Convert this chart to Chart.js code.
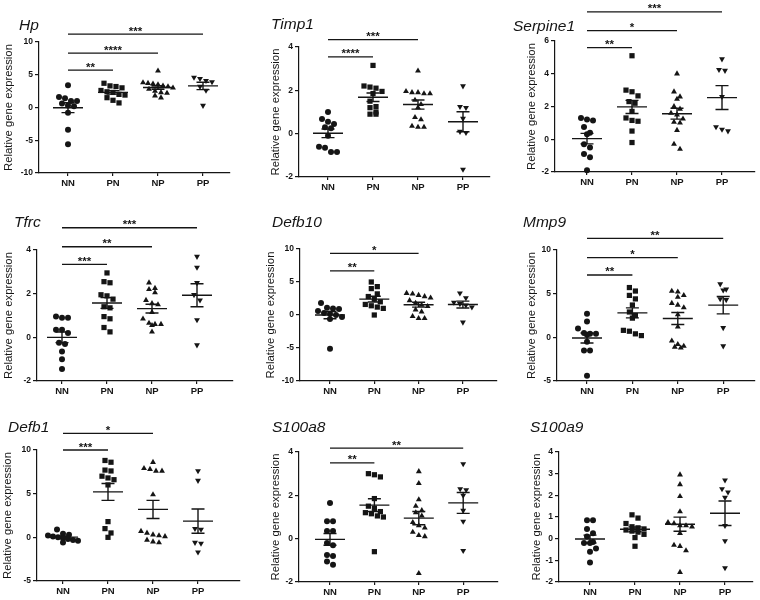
<!DOCTYPE html>
<html>
<head>
<meta charset="utf-8">
<script src="https://cdn.jsdelivr.net/npm/chart.js@4.4.1/dist/chart.umd.min.js"></script>
<style>
  body { margin: 0; background: #fff; }
  #wrap { position: relative; width: 760px; height: 600px; overflow: hidden; background: #fff; }
  #wrap canvas { position: absolute; }
</style>
</head>
<body>
<div id="wrap"></div>
<script>
const categories = ["NN", "PN", "NP", "PP"];
const genes = ["Hp", "Timp1", "Serpine1", "Tfrc", "Defb10", "Mmp9", "Defb1", "S100a8", "S100a9"];

// values per group, order NN, PN, NP, PP
const hpValues = [
  [3.4, 1.6, 1.4, 1.0, 1.0, 0.6, 0.3, 0.2, -0.8, -3.4, -5.6],
  [3.7, 3.3, 3.2, 3.0, 2.6, 2.4, 2.3, 2.0, 1.9, 1.5, 1.1, 0.7],
  [5.6, 3.8, 3.7, 3.6, 3.5, 3.3, 3.2, 3.0, 2.8, 2.5, 2.3, 2.2, 1.8, 1.5],
  [4.6, 4.4, 4.1, 3.9, 3.2, 2.6, 0.3],
];
const timp1Values = [
  [1.0, 0.68, 0.55, 0.45, 0.3, 0.25, -0.1, -0.6, -0.65, -0.85, -0.85],
  [3.15, 2.2, 2.15, 2.1, 1.95, 1.85, 1.5, 1.25, 1.2, 1.0, 0.9, 0.9],
  [2.9, 1.95, 1.9, 1.9, 1.85, 1.85, 1.55, 1.35, 1.2, 0.75, 0.65, 0.35, 0.3, 0.3],
  [2.2, 1.25, 1.2, 0.7, 0.1, 0.05, -1.65],
];
const serpine1Values = [
  [1.3, 1.2, 1.15, 0.75, 0.4, 0.3, -0.3, -0.5, -0.9, -1.1, -1.9],
  [5.1, 3.0, 2.9, 2.65, 2.3, 2.2, 1.7, 1.3, 1.15, 1.1, 0.5, -0.2],
  [4.0, 2.9, 2.6, 2.45, 2.0, 1.85, 1.6, 1.5, 1.25, 1.05, 1.0, 0.55, -0.3, -0.6],
  [4.9, 4.25, 4.2, 2.6, 0.75, 0.6, 0.5],
];
const tfrcValues = [
  [0.95, 0.9, 0.9, 0.35, 0.35, 0.2, -0.25, -0.3, -0.65, -1.0, -1.45],
  [2.95, 2.55, 2.5, 1.95, 1.9, 1.75, 1.4, 1.35, 0.95, 0.85, 0.45, 0.25],
  [2.5, 2.25, 2.2, 2.05, 1.7, 1.55, 1.5, 1.15, 0.85, 0.65, 0.6, 0.6, 0.55, 0.25],
  [3.7, 3.2, 2.5, 1.95, 1.7, 0.8, -0.35],
];
const defb10Values = [
  [1.8, 1.1, 1.0, 0.9, 0.6, 0.3, 0.2, 0.0, -0.3, -0.6, -5.1],
  [5.0, 4.3, 4.0, 3.2, 2.8, 2.4, 2.0, 1.6, 1.4, 1.2, 1.0, 0.0],
  [3.3, 3.2, 3.0, 2.8, 2.6, 2.2, 1.8, 1.5, 1.3, 0.8, 0.5, -0.2, -0.5, -0.5],
  [3.3, 2.6, 1.9, 1.7, 1.5, 1.2, -1.1],
];
const mmp9Values = [
  [2.7, 1.8, 1.0, 0.5, 0.4, 0.4, 0.3, -0.5, -1.5, -1.5, -4.4],
  [5.7, 5.3, 4.8, 4.4, 3.7, 2.9, 2.5, 2.2, 0.8, 0.7, 0.4, 0.2],
  [5.3, 5.2, 4.8, 4.6, 3.9, 3.7, 3.4, 2.6, 1.2, -0.4, -0.8, -1.0, -1.1, -1.2],
  [6.1, 5.5, 5.4, 4.4, 4.3, 1.1, -1.0],
];
const defb1Values = [
  [0.9, 0.4, 0.3, 0.2, 0.1, 0.0, -0.1, -0.2, -0.3, -0.4, -0.6],
  [8.8, 8.6, 7.7, 7.6, 7.0, 6.8, 6.6, 6.0, 1.8, 1.0, 0.5, 0.0],
  [8.6, 7.9, 7.8, 7.6, 7.6, 4.9, 0.7, 0.5, 0.3, 0.2, 0.1, -0.3, -0.5, -0.6],
  [7.6, 6.5, 1.0, 0.9, -0.6, -0.7, -1.7],
];
const s100a8Values = [
  [1.65, 0.8, 0.8, 0.35, 0.35, -0.2, -0.3, -0.75, -0.8, -1.05, -1.2],
  [3.0, 2.95, 2.85, 1.85, 1.5, 1.4, 1.25, 1.2, 1.15, 1.05, 1.0, -0.6],
  [3.1, 2.55, 1.8, 1.5, 1.3, 1.2, 1.05, 0.75, 0.6, 0.5, 0.3, 0.15, 0.1, -1.6],
  [3.45, 2.3, 2.25, 2.0, 1.3, 0.8, -0.55],
];
const s100a9Values = [
  [0.85, 0.85, 0.45, 0.25, 0.1, -0.15, -0.2, -0.2, -0.45, -0.6, -1.1],
  [1.1, 0.95, 0.7, 0.55, 0.5, 0.45, 0.4, 0.35, 0.3, 0.2, 0.05, -0.35],
  [2.95, 2.5, 1.95, 1.25, 0.75, 0.7, 0.6, 0.6, 0.55, 0.25, -0.3, -0.35, -0.55, -1.55],
  [2.7, 2.3, 2.15, 1.9, 0.6, -0.1, -1.35],
];

// y tick labels
const hpTicks = [-10, -5, 0, 5, 10];
const timp1Ticks = [-2, 0, 2, 4];
const serpine1Ticks = [-2, 0, 2, 4, 6];
const tfrcTicks = [-2, 0, 2, 4];
const defb10Ticks = [-10, -5, 0, 5, 10];
const mmp9Ticks = [-5, 0, 5, 10];
const defb1Ticks = [-5, 0, 5, 10];
const s100a8Ticks = [-2, 0, 2, 4];
const s100a9Ticks = [-2, -1, 0, 1, 2, 3, 4];

// significance bars vs NN: [group number, bar height, stars]
const hpSig = [[2, 5.7, "**"], [3, 8.3, "****"], [4, 11.2, "***"]];
const timp1Sig = [[2, 3.54, "****"], [3, 4.34, "***"]];
const serpine1Sig = [[2, 5.6, "**"], [3, 6.63, "*"], [4, 7.78, "***"]];
const tfrcSig = [[2, 3.34, "***"], [3, 4.15, "**"], [4, 5.02, "***"]];
const defb10Sig = [[2, 6.7, "**"], [3, 9.34, "*"]];
const mmp9Sig = [[2, 7.14, "**"], [3, 9.12, "*"], [4, 11.34, "**"]];
const defb1Sig = [[2, 10.0, "***"], [3, 11.9, "*"]];
const s100a8Sig = [[2, 3.5, "**"], [4, 4.18, "**"]];
const s100a9Sig = [];

const allValues = [hpValues, timp1Values, serpine1Values, tfrcValues, defb10Values, mmp9Values, defb1Values, s100a8Values, s100a9Values];
const allTicks = [hpTicks, timp1Ticks, serpine1Ticks, tfrcTicks, defb10Ticks, mmp9Ticks, defb1Ticks, s100a8Ticks, s100a9Ticks];
const allSig = [hpSig, timp1Sig, serpine1Sig, tfrcSig, defb10Sig, mmp9Sig, defb1Sig, s100a8Sig, s100a9Sig];

// page layout: plot box edges, first category x, category gap, title spot, axis label offset
const panels = [
  { L: 39, R: 230, T: 42, B: 173, c1: 68, sp: 45, tx: 19, ty: 30, lab: 30 },
  { L: 299, R: 490, T: 47, B: 177, c1: 328, sp: 45, tx: 271, ty: 29, lab: 23 },
  { L: 555, R: 755, T: 41, B: 172, c1: 587, sp: 45, tx: 513, ty: 31, lab: 23 },
  { L: 37, R: 233, T: 250, B: 381, c1: 62, sp: 45, tx: 14, ty: 227, lab: 28 },
  { L: 300, R: 497, T: 249, B: 381, c1: 330, sp: 44.3, tx: 272, ty: 227, lab: 29 },
  { L: 557, R: 755, T: 250, B: 381, c1: 587, sp: 45.4, tx: 523, ty: 227, lab: 25 },
  { L: 37, R: 240, T: 450, B: 581, c1: 63, sp: 45, tx: 8, ty: 432, lab: 29.5 },
  { L: 299, R: 498, T: 452, B: 582, c1: 330, sp: 44.4, tx: 272, ty: 432, lab: 23.5 },
  { L: 559, R: 753, T: 452, B: 582, c1: 590, sp: 45, tx: 530, ty: 432, lab: 21.7 },
];

const ink = "#151515";
const family = "'Liberation Sans', Arial, sans-serif";
const styles = ["circle", "rect", "triangle", "triangle"];
const radii = [3, 3.7, 3.4, 3.4];

// row-style scatter: values within `band` px share a row, spread side by side
function spread(values, pxPerUnit, band, gap, maxW) {
  const order = values.map((v, i) => i).sort((a, b) => values[b] - values[a]);
  const offs = [];
  let row = [];
  const flush = () => {
    const n = row.length;
    const s = n > 1 ? Math.min(gap, maxW / (n - 1)) : 0;
    row.forEach((i, j) => {
      offs[i] = (j - (n - 1) / 2) * s;
    });
    row = [];
  };
  order.forEach((i) => {
    if (row.length && (values[row[0]] - values[i]) * pxPerUnit > band) flush();
    row.push(i);
  });
  flush();
  return offs;
}

function stats(vals) {
  const n = vals.length;
  const mean = vals.reduce((a, b) => a + b, 0) / n;
  const sd = Math.sqrt(vals.reduce((a, b) => a + (b - mean) ** 2, 0) / (n - 1));
  return { mean, sem: sd / Math.sqrt(n) };
}

function makeOverlay(values, sig, title, tx, ty) {
  return {
    id: "overlay",
    afterDatasetsDraw(chart) {
      const { ctx } = chart;
      const x = chart.scales.x;
      const y = chart.scales.y;
      ctx.save();
      ctx.strokeStyle = ink;
      ctx.fillStyle = ink;
      ctx.lineWidth = 1.4;

      // mean and SEM
      values.forEach((vals, g) => {
        const s = stats(vals);
        const cx = x.getPixelForValue(g + 1);
        const ym = y.getPixelForValue(s.mean);
        const yt = y.getPixelForValue(s.mean + s.sem);
        const yb = y.getPixelForValue(s.mean - s.sem);
        ctx.beginPath();
        ctx.moveTo(cx - 15, ym);
        ctx.lineTo(cx + 15, ym);
        ctx.moveTo(cx - 6.5, yt);
        ctx.lineTo(cx + 6.5, yt);
        ctx.moveTo(cx - 6.5, yb);
        ctx.lineTo(cx + 6.5, yb);
        ctx.moveTo(cx, yt);
        ctx.lineTo(cx, yb);
        ctx.stroke();
      });

      // significance bars
      ctx.lineWidth = 1.3;
      ctx.font = "bold 11.5px " + family;
      ctx.textAlign = "center";
      ctx.textBaseline = "alphabetic";
      sig.forEach(([g, h, stars]) => {
        const x0 = x.getPixelForValue(1);
        const x1 = x.getPixelForValue(g);
        const yy = y.getPixelForValue(h);
        ctx.beginPath();
        ctx.moveTo(x0, yy);
        ctx.lineTo(x1, yy);
        ctx.stroke();
        ctx.fillText(stars, (x0 + x1) / 2, yy + 0.5);
      });

      // gene name
      ctx.font = "italic 15.5px " + family;
      ctx.textAlign = "left";
      ctx.fillText(title, tx, ty);
      ctx.restore();
    },
  };
}

document.addEventListener("DOMContentLoaded", function () {
  const wrap = document.getElementById("wrap");

  panels.forEach((p, k) => {
    const values = allValues[k];
    const ticks = allTicks[k];
    const yMin = ticks[0];
    const yMax = ticks[ticks.length - 1];
    const step = ticks[1] - ticks[0];
    const xMin = 1 - (p.c1 - p.L) / p.sp;
    const xMax = xMin + (p.R - p.L) / p.sp;
    const pxY = (p.B - p.T) / (yMax - yMin);

    const yW = p.lab + 6.8;
    const left = Math.floor(Math.min(p.L - yW, p.tx - 3));
    const top = Math.max(0, p.ty - 30);
    const padL = p.L - yW - left;
    const padT = p.T - top;
    const xH = 22;

    const canvas = document.createElement("canvas");
    canvas.width = Math.ceil(p.R + 4 - left);
    canvas.height = p.B + xH - top;
    canvas.style.left = left + "px";
    canvas.style.top = top + "px";
    wrap.appendChild(canvas);

    const datasets = values.map((vals, g) => {
      const offs = spread(vals, pxY, 6, 6, 30);
      return {
        data: vals.map((v, i) => ({ x: g + 1 + offs[i] / p.sp, y: v })),
        pointStyle: styles[g],
        pointRadius: radii[g],
        pointRotation: g === 3 ? 180 : 0,
        backgroundColor: ink,
        borderColor: ink,
        borderWidth: 0,
        clip: false,
      };
    });

    new Chart(canvas, {
      type: "scatter",
      data: { datasets },
      options: {
        responsive: false,
        animation: false,
        events: [],
        layout: {
          autoPadding: false,
          padding: { left: padL, top: padT, right: canvas.width - (p.R - left), bottom: 0 },
        },
        plugins: {
          legend: { display: false },
          tooltip: { enabled: false },
          title: { display: false },
        },
        scales: {
          x: {
            type: "linear",
            min: xMin,
            max: xMax,
            afterBuildTicks: (s) => {
              s.ticks = categories.map((c, i) => ({ value: i + 1 }));
            },
            afterFit: (s) => {
              s.height = xH;
            },
            ticks: {
              callback: (v) => categories[v - 1],
              autoSkip: false,
              maxRotation: 0,
              padding: 2,
              color: ink,
              font: { family, size: 9.5, weight: "bold" },
            },
            grid: { drawOnChartArea: false, tickLength: 3, color: ink, lineWidth: 1.2 },
            border: { color: ink, width: 1.2 },
          },
          y: {
            min: yMin,
            max: yMax,
            afterFit: (s) => {
              s.width = yW;
            },
            ticks: {
              stepSize: step,
              padding: 2,
              color: ink,
              font: { family, size: 8.5, weight: "bold" },
            },
            grid: { drawOnChartArea: false, tickLength: 4, color: ink, lineWidth: 1.2 },
            border: { color: ink, width: 1.2 },
            title: {
              display: true,
              text: "Relative gene expression",
              color: ink,
              padding: 0,
              font: { family, size: 11.3 },
            },
          },
        },
      },
      plugins: [makeOverlay(values, allSig[k], genes[k], p.tx - left, p.ty - top)],
    });
  });
});
</script>
</body>
</html>
